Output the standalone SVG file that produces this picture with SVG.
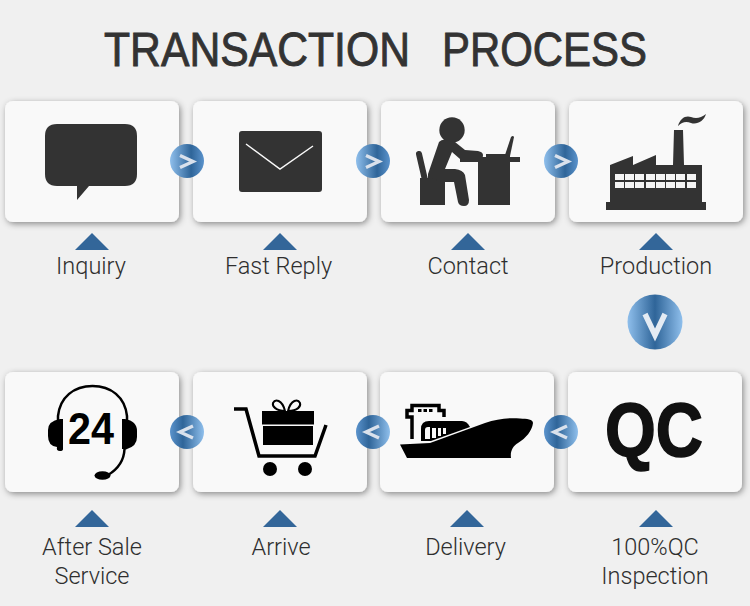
<svg xmlns="http://www.w3.org/2000/svg" width="750" height="606" viewBox="0 0 750 606">
<style>
.card{fill:#f9f9f9;filter:url(#sh)}
.lbl{font-family:Roboto,"Liberation Sans",sans-serif;font-weight:300;font-size:23.500px;fill:#2e2e2e;text-anchor:middle}
.ttl{font-family:"Liberation Sans",Arial,sans-serif;font-size:49px;fill:#333;stroke:#333;stroke-width:.9}
.tri{fill:#336699}
.d{fill:#333}
.k{fill:#000}
.bt{fill:none;stroke:#d9e1ec;stroke-width:3.4}
</style>
<defs>
<filter id="sh" x="-10%" y="-10%" width="125%" height="125%"><feDropShadow dx="1.500" dy="2" stdDeviation="3" flood-color="#000" flood-opacity=".42"/></filter>
<linearGradient id="bg"><stop offset="0" stop-color="#8fbfec"/><stop offset=".5" stop-color="#2f6599"/><stop offset="1" stop-color="#8fbfec"/></linearGradient>
<linearGradient id="bgr"><stop offset="0" stop-color="#8fbfec"/><stop offset=".62" stop-color="#2f6599"/><stop offset="1" stop-color="#5b93cc"/></linearGradient>
<linearGradient id="bgl"><stop offset="0" stop-color="#5b93cc"/><stop offset=".38" stop-color="#2f6599"/><stop offset="1" stop-color="#8fbfec"/></linearGradient>
</defs>
<rect width="750" height="606" fill="#f0f0f0"/>
<g id="title">
<text class="ttl" x="104" y="66" textLength="306" lengthAdjust="spacingAndGlyphs">TRANSACTION</text>
<text class="ttl" x="442" y="66" textLength="205" lengthAdjust="spacingAndGlyphs">PROCESS</text>
</g>

<g id="inquiry"><rect class="card" x="5" y="101" width="174" height="121" rx="8"/>
<path class="d" d="M57 124H125Q137 124 137 136V174Q137 186 125 186H89L77 200V186H57Q45 186 45 174V136Q45 124 57 124Z"/>
<polygon class="tri" points="75,250 92,233 109,250"/><text class="lbl" x="91" y="274">Inquiry</text></g>

<g id="fast-reply"><rect class="card" x="193" y="101" width="174" height="121" rx="8"/>
<rect class="d" x="239" y="131" width="83" height="61" rx="3"/><path d="M246 144L280 169L313 146" fill="none" stroke="#f9f9f9" stroke-width="1.500"/>
<polygon class="tri" points="263,250 280,233 297,250"/><text class="lbl" x="278.500" y="274">Fast Reply</text></g>

<g id="contact"><rect class="card" x="381" y="101" width="174" height="121" rx="8"/>
<circle class="d" cx="452" cy="130" r="12.700"/>
<path d="M419 154L425 180" fill="none" stroke="#333" stroke-width="6" stroke-linecap="round"/>
<rect class="d" x="420" y="178" width="25" height="27"/>
<path class="d" d="M439 142Q442 139 446 140L455 142L465 150L478 151Q483 152 483 155Q483 159 480 159H460L452 152L445 169H455Q463 170 465 175L469 200Q469 206 464 206Q459 206 458 202L454 182H445L428 178V174Z"/>
<path class="d" d="M460 157H486V154H510V157H520V162H510V205H478V162H460Z"/>
<path class="d" d="M505 155L511 137Q513 135 514 137L510 156Z"/>
<polygon class="tri" points="451,250 468,233 485,250"/><text class="lbl" x="468" y="274">Contact</text></g>

<g id="production"><rect class="card" x="569" y="101" width="174" height="121" rx="8"/>
<path class="d" d="M606 210V202H610V165L633 156V165L656 155V165H673L674 130H683L684 165H702V202H706V210Z"/>
<path class="d" d="M678 126C680 118 686 115 691 117C696 119 701 118 706 114C704 121 697 125 691 123C686 121 682 122 678 126Z"/>
<path fill="#f5f5f5" d="M615 174h9v6h-9zM625 174h9v6h-9zM635 174h9v6h-9zM646 174h9v6h-9zM656 174h9v6h-9zM666 174h9v6h-9zM676 174h9v6h-9zM687 174h9v6h-9zM615 182h9v6h-9zM625 182h9v6h-9zM635 182h9v6h-9zM646 182h9v6h-9zM656 182h9v6h-9zM666 182h9v6h-9zM676 182h9v6h-9zM687 182h9v6h-9z"/>
<polygon class="tri" points="639,250 656,233 673,250"/><text class="lbl" x="656" y="274">Production</text></g>

<g id="qc"><rect class="card" x="568" y="372" width="174" height="120" rx="8"/>
<text x="605" y="456" font-family="'Liberation Sans',Arial,sans-serif" font-weight="700" font-size="76" fill="#111" stroke="#111" stroke-width="1.600" textLength="98" lengthAdjust="spacingAndGlyphs">QC</text>
<polygon class="tri" points="639,527 656,510 673,527"/><text class="lbl" x="655" y="555">100%QC</text><text class="lbl" x="655" y="584">Inspection</text></g>

<g id="delivery"><rect class="card" x="380" y="372" width="174" height="120" rx="8"/>
<path class="k" d="M421 441V429Q421 421 429 421H462Q467 421 470 427L431 441Z"/>
<path fill="none" stroke="#000" stroke-width="3.500" d="M412 439V417H407V410.500H412V405.500H439V410.500H444V417"/>
<path fill="#f9f9f9" d="M425 439V430Q425 427 428 427H430V439ZM432 428h4v10h-4zM438 428h3v8h-3zM443 428h3v6h-3z"/>
<path class="k" d="M418 409h3.500v3h-3.500zM423.500 409h3.500v3h-3.500zM429 409h3.500v3h-3.500z"/>
<path class="k" d="M400 444.500L407 458H511C510 451 513 446 518 443C526 438 532 431 533 423C533 419 527 419 520 418.500C508 417.500 497 419 485 423L430 443Z"/>
<polygon class="tri" points="450,527 467,510 484,527"/><text class="lbl" x="465.500" y="555">Delivery</text></g>

<g id="arrive"><rect class="card" x="193" y="372" width="174" height="120" rx="8"/>
<path d="M234 409H246L259 456H315L326 425" fill="none" stroke="#000" stroke-width="3.500"/>
<rect class="k" x="262" y="411" width="52" height="13.500"/><rect class="k" x="263" y="426" width="50" height="19"/>
<path d="M285 411C276 411 272 406 273 403C275 399 282 399 285 411ZM288 411C298 411 301 406 300 403C298 399 291 399 288 411Z" fill="none" stroke="#000" stroke-width="2"/>
<circle class="k" cx="270" cy="469" r="7"/><circle class="k" cx="305" cy="469" r="7"/>
<polygon class="tri" points="263,527 280,510 297,527"/><text class="lbl" x="281" y="555">Arrive</text></g>

<g id="after-sale"><rect class="card" x="5" y="372" width="174" height="120" rx="8"/>
<path d="M58 421V416C60 397 74 386 92.500 386C111 386 125 397 127 416V421" fill="none" stroke="#000" stroke-width="2.500"/>
<path class="k" d="M60 419H63V449Q63 451 60 451Q56 451 57 447Q48 446 48 436V430Q48 421 60 419Z"/>
<path class="k" d="M122 419H125Q137 421 137 431V437Q137 446 127 449Q125 450 124 449H122Z"/>
<path d="M124.500 449C124 461 118 469 108 475" fill="none" stroke="#000" stroke-width="2.500"/>
<ellipse class="k" cx="102.500" cy="475.500" rx="8" ry="4.300"/>
<text x="68" y="444" font-family="'Liberation Sans',Arial,sans-serif" font-weight="700" font-size="45" fill="#000" textLength="46" lengthAdjust="spacingAndGlyphs">24</text>
<polygon class="tri" points="75,527 92,510 109,527"/><text class="lbl" x="92" y="555">After Sale</text><text class="lbl" x="92" y="584">Service</text></g>

<g id="connectors">
<circle fill="url(#bgr)" cx="187" cy="161" r="17"/><path class="bt" d="M180 155.500L193 161.500L180 167.500"/>
<circle fill="url(#bgr)" cx="373" cy="161" r="17"/><path class="bt" d="M366 155.500L379 161.500L366 167.500"/>
<circle fill="url(#bgr)" cx="561" cy="161" r="17"/><path class="bt" d="M555 155.500L568 161.500L555 167.500"/>
<circle fill="url(#bg)" cx="655" cy="322" r="27.500"/><path d="M645 314L655 335L665 314" fill="none" stroke="#e4ebf3" stroke-width="5.500"/>
<circle fill="url(#bgl)" cx="561" cy="432" r="17"/><path class="bt" d="M567 426L554 432L567 438"/>
<circle fill="url(#bgl)" cx="373" cy="432" r="17"/><path class="bt" d="M379 426L366 432L379 438"/>
<circle fill="url(#bgl)" cx="187" cy="432" r="17"/><path class="bt" d="M193 426L180 432L193 438"/>
</g>
</svg>
